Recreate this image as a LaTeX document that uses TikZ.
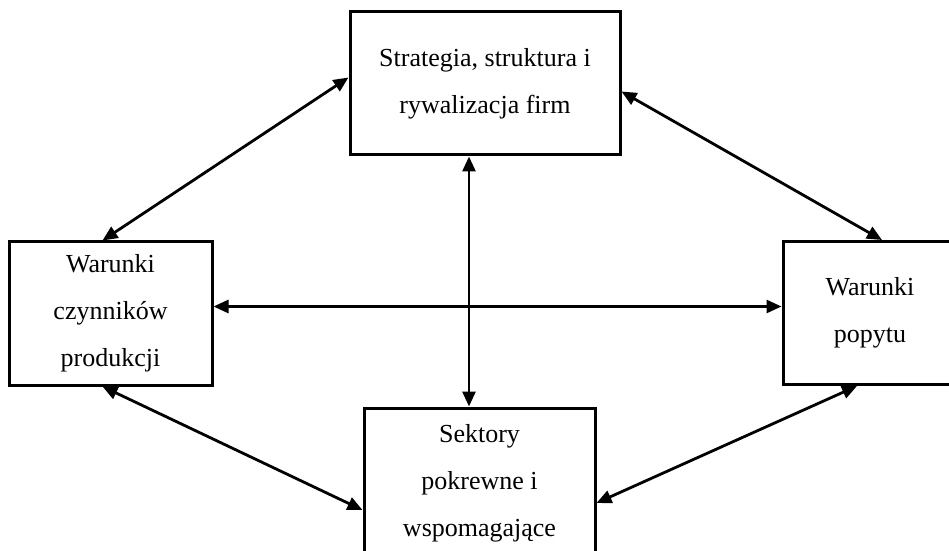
\documentclass[tikz,border=0pt]{standalone}
\usepackage{fontspec}
\setmainfont{Liberation Serif}
\usetikzlibrary{calc}
\usetikzlibrary{arrows.meta}
\usetikzlibrary{positioning}
\tikzset{
	every path/.style={line width=1.4pt},
	align=center,
	czynnik/.style={
		draw,
		rectangle,
		line width=1.5pt,
		font=\fontsize{13}{23.5}\selectfont,
	},
	link/.style={
		{Triangle[length=7.5pt,width=6.5pt]}-{Triangle[length=7.5pt,width=6.5pt]}
	},
}

\begin{document}
\begin{tikzpicture}[
		x=0.5pt, y=-0.5pt,
		czynnik/.append style={minimum height=71.5pt},
	]
		\useasboundingbox (0,0) rectangle (949,551);

		\node[czynnik,minimum width=135pt]   (strat) at (485,83.5)  {Strategia, struktura i\\rywalizacja firm};
		\node[czynnik,minimum width=101.5pt] (czyn)  at (110.5,313.5) {Warunki\\czynników\\produkcji};
		\node[czynnik,minimum width=87pt]    (popyt) at (870,313)   {Warunki\\popytu};
		\node[czynnik,minimum width=115.5pt,minimum height=75pt] (sekt) at (479.5,483) {Sektory\\pokrewne i\\wspomagające};

		\draw[link] ([xshift=-4pt]czyn.north) -- ([yshift=3pt]strat.west);
		\draw[link] ([yshift=-4pt]strat.east) -- ([xshift=6pt]popyt.north);
		\draw[link] ([xshift=-8pt]strat.south) -- ([xshift=-8pt]strat.south |- sekt.north);
		\draw[link] ([yshift=3.5pt]czyn.east) -- ([yshift=3.5pt]czyn.east -| popyt.west);
		\draw[link] ([xshift=-4pt]czyn.south) -- ([yshift=-13.5pt]sekt.west);
		\draw[link] ([yshift=-10pt]sekt.east) -- ([xshift=-6.5pt]popyt.south);

	\end{tikzpicture}
\end{document}
